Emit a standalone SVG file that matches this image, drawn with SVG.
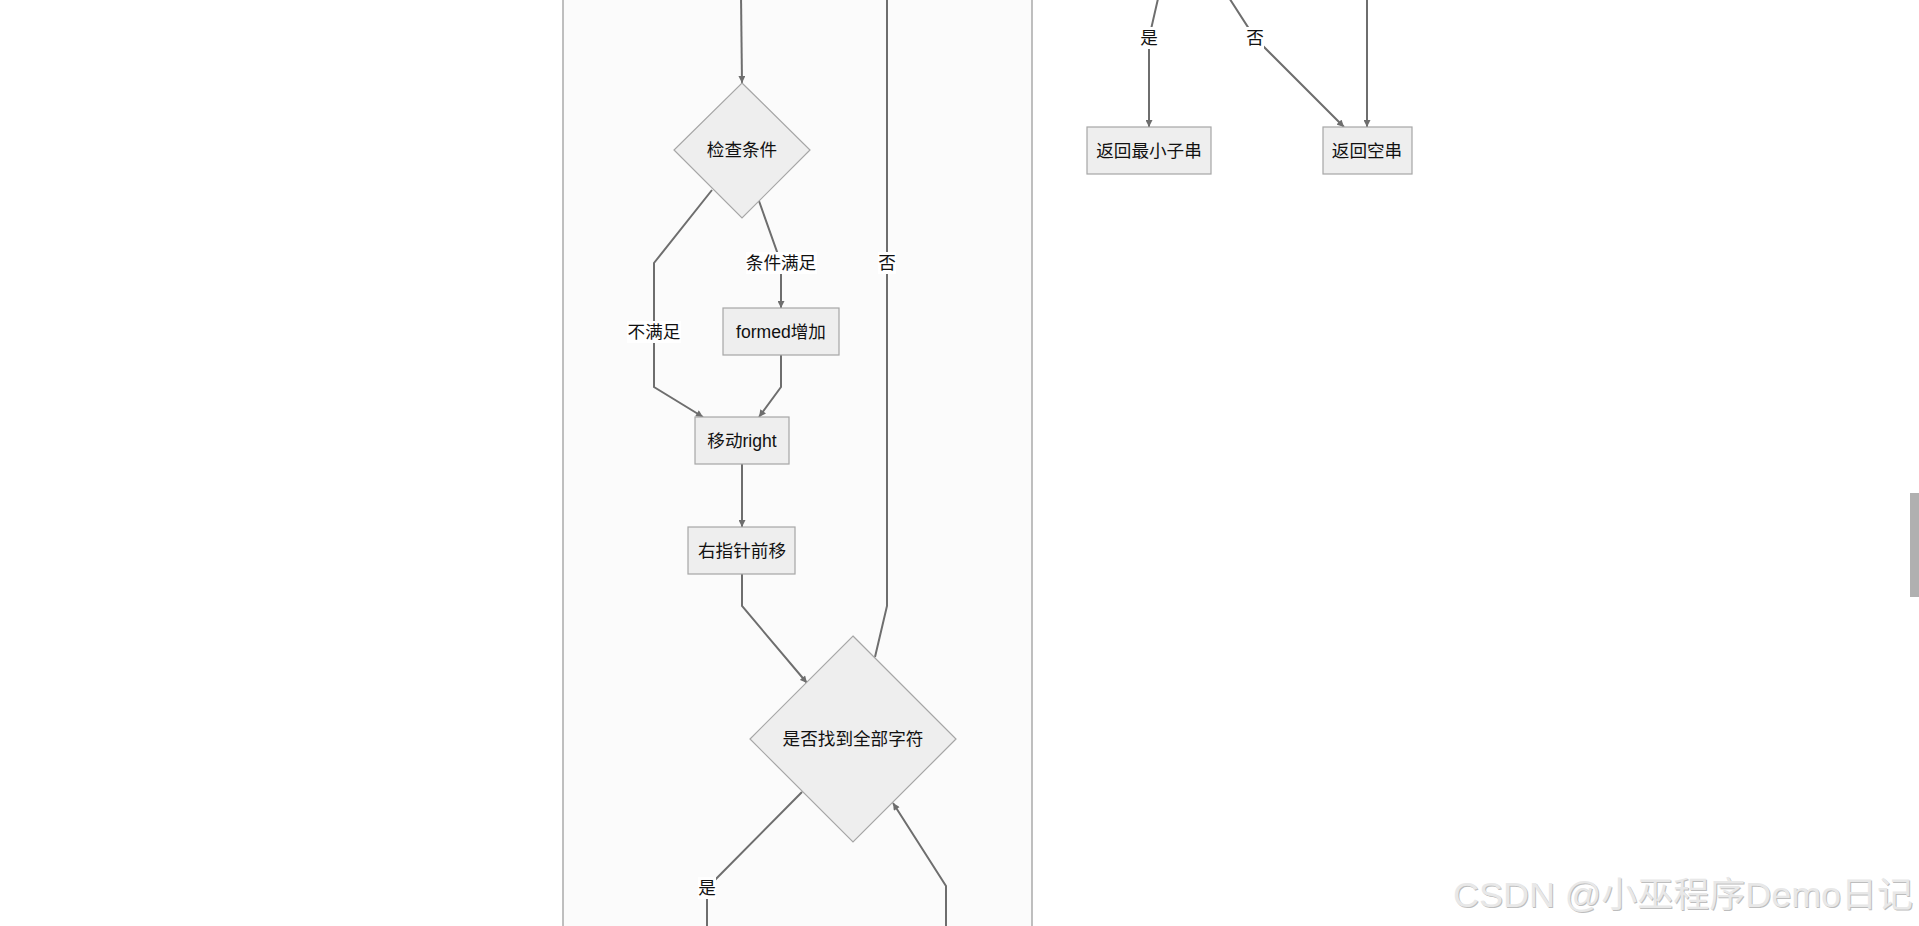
<svg xmlns="http://www.w3.org/2000/svg" width="1919" height="926" viewBox="0 0 1919 926">
<defs>
<style>
.node rect,.node polygon{fill:#eeeeee;stroke:#a6a6a6;stroke-width:1.2}
.lbl{font-family:"Liberation Sans","Noto Sans CJK SC",sans-serif;font-size:17.6px;fill:#111;text-anchor:middle;dominant-baseline:central}
.edge{fill:none;stroke:#6e6e6e;stroke-width:2}
.elbg{fill:#ffffff}
.cluster{fill:#fbfbfb;stroke:#aaaaaa;stroke-width:1.5}
.wm{font-family:"Liberation Sans","Noto Sans CJK SC",sans-serif;font-size:35px}
</style>
<marker id="arrow" viewBox="0 0 10 10" refX="10" refY="5" markerUnits="userSpaceOnUse" markerWidth="8" markerHeight="7" orient="auto">
<path d="M0,0 L10,5 L0,10 z" fill="#6e6e6e"/>
</marker>
</defs>
<rect x="0" y="0" width="1919" height="926" fill="#ffffff"/>
<g id="cluster-loop">
<rect class="cluster" x="563" y="-10" width="469" height="960"/>
</g>
<g id="connectors">
<path class="edge" d="M741,-5 L742,83" marker-end="url(#arrow)"/>
<path class="edge" d="M712,190 L654,263 L654,387 L703,417" marker-end="url(#arrow)"/>
<path class="edge" d="M759,201 L781,263 L781,308" marker-end="url(#arrow)"/>
<path class="edge" d="M781,355 L781,387 L759,417" marker-end="url(#arrow)"/>
<path class="edge" d="M742,464 L742,527" marker-end="url(#arrow)"/>
<path class="edge" d="M742,574 L742,606 L807,683" marker-end="url(#arrow)"/>
<path class="edge" d="M875,657 L887,606 L887,-10"/>
<path class="edge" d="M802,792 L707,888 L707,934" marker-end="url(#arrow)"/>
<path class="edge" d="M946,940 L946,886 L893,803" marker-end="url(#arrow)"/>
<path class="edge" d="M1160,-10 L1149,38 L1149,127" marker-end="url(#arrow)"/>
<path class="edge" d="M1224,-10 L1255,38 L1344,127" marker-end="url(#arrow)"/>
<path class="edge" d="M1367,-5 L1367,127" marker-end="url(#arrow)"/>
<g id="edge-labels">
<rect class="elbg" x="627" y="321" width="54" height="22"/>
<text class="lbl" x="654" y="332">不满足</text>
<rect class="elbg" x="746" y="252" width="71" height="22"/>
<text class="lbl" x="781" y="263">条件满足</text>
<rect class="elbg" x="878" y="252" width="18" height="22"/>
<text class="lbl" x="887" y="263">否</text>
<rect class="elbg" x="698" y="877" width="18" height="22"/>
<text class="lbl" x="707" y="888">是</text>
<rect class="elbg" x="1140" y="27" width="18" height="22"/>
<text class="lbl" x="1149" y="38">是</text>
<rect class="elbg" x="1246" y="27" width="18" height="22"/>
<text class="lbl" x="1255" y="38">否</text>
</g>
</g>
<g id="node-check" class="node">
<polygon points="742,83 810,150 742,218 674,150"/>
<text class="lbl" x="742" y="150">检查条件</text>
</g>
<g id="node-formed" class="node">
<rect x="723" y="308" width="116" height="47"/>
<text class="lbl" x="781" y="332">formed增加</text>
</g>
<g id="node-move" class="node">
<rect x="695" y="417" width="94" height="47"/>
<text class="lbl" x="742" y="441">移动right</text>
</g>
<g id="node-right" class="node">
<rect x="688" y="527" width="107" height="47"/>
<text class="lbl" x="742" y="551">右指针前移</text>
</g>
<g id="node-found" class="node">
<polygon points="853,636 956,739 853,842 750,739"/>
<text class="lbl" x="853" y="739">是否找到全部字符</text>
</g>
<g id="node-min" class="node">
<rect x="1087" y="127" width="124" height="47"/>
<text class="lbl" x="1149" y="151">返回最小子串</text>
</g>
<g id="node-empty" class="node">
<rect x="1323" y="127" width="89" height="47"/>
<text class="lbl" x="1367" y="151">返回空串</text>
</g>
<rect x="1910" y="493" width="9" height="104" fill="#b0b0b0"/>
<text class="wm" x="1454" y="908" fill="#bdbdbd" textLength="460" lengthAdjust="spacingAndGlyphs">CSDN @小巫程序Demo日记</text>
<text class="wm" x="1453" y="907" fill="#e8e8e8" textLength="460" lengthAdjust="spacingAndGlyphs">CSDN @小巫程序Demo日记</text>
</svg>
